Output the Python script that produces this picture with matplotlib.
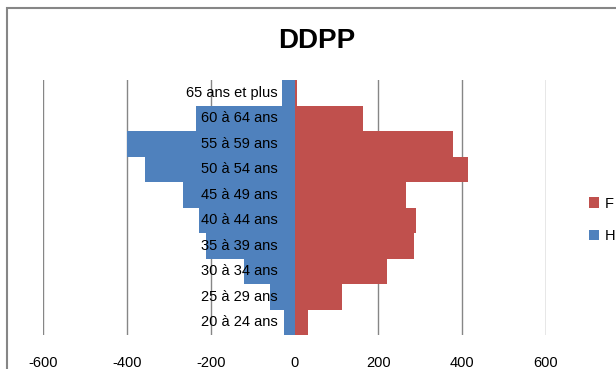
import matplotlib.pyplot as plt
from matplotlib.patches import Rectangle
from matplotlib.transforms import offset_copy
import numpy as np

# tranches d'âge, du bas vers le haut
ages = ['20 à 24 ans', '25 à 29 ans', '30 à 34 ans', '35 à 39 ans', '40 à 44 ans',
        '45 à 49 ans', '50 à 54 ans', '55 à 59 ans', '60 à 64 ans', '65 ans et plus']
hommes = [26, 58, 121, 212, 228, 267, 357, 399, 236, 29]   # affichés en négatif
femmes = [33, 113, 220, 284, 291, 266, 414, 379, 163, 6]

bleu = '#4F81BD'
rouge = '#C0504D'
gris = '#868686'

plt.rcParams['font.family'] = ['Liberation Sans', 'DejaVu Sans']
plt.rcParams['axes.unicode_minus'] = False

fig = plt.figure(figsize=(6.16, 3.69), dpi=100)
# cadre du graphique
fig.patches.append(Rectangle((7 / 616, -0.1), 1.2, (369 - 8) / 369 + 0.1,
                             transform=fig.transFigure, fill=False,
                             edgecolor=gris, linewidth=1.5))

ax = fig.add_axes([43 / 616, 1 - 335 / 369, 503 / 616, 255 / 369])
y = np.arange(len(ages))
ax.barh(y, -np.array(hommes), height=1.0, color=bleu, label='H', zorder=2)
ax.barh(y, femmes, height=1.0, color=rouge, label='F', zorder=2)

ax.set_xlim(-600, 600)
ax.set_ylim(-0.5, len(ages) - 0.5)
ax.set_xticks(range(-600, 601, 200))
ax.xaxis.grid(True, color=gris, linewidth=1, zorder=0)
ax.tick_params(axis='x', length=0, labelsize=10.5, pad=15)
ax.set_yticks([])
for s in ax.spines.values():
    s.set_visible(False)

# étiquettes des tranches, à gauche de l'axe vertical (x = 0), par-dessus les barres
trans = offset_copy(ax.transData, fig=fig, x=-17, y=0, units='dots')
for yi, lab in zip(y, ages):
    ax.text(0, yi, lab, transform=trans, ha='right', va='center',
            fontsize=10.5, zorder=5)

fig.text(317 / 616, 1 - 41 / 369, 'DDPP', ha='center', va='center',
         fontsize=20, fontweight='bold')

# légende
h, l = ax.get_legend_handles_labels()
fig.legend(h[::-1], l[::-1], loc='center left', bbox_to_anchor=(576 / 616, 1 - 220 / 369),
           frameon=False, fontsize=10.5, handlelength=0.7, handleheight=0.7,
           labelspacing=1.3, handletextpad=0.4)

fig.savefig('out.png', dpi=100)
